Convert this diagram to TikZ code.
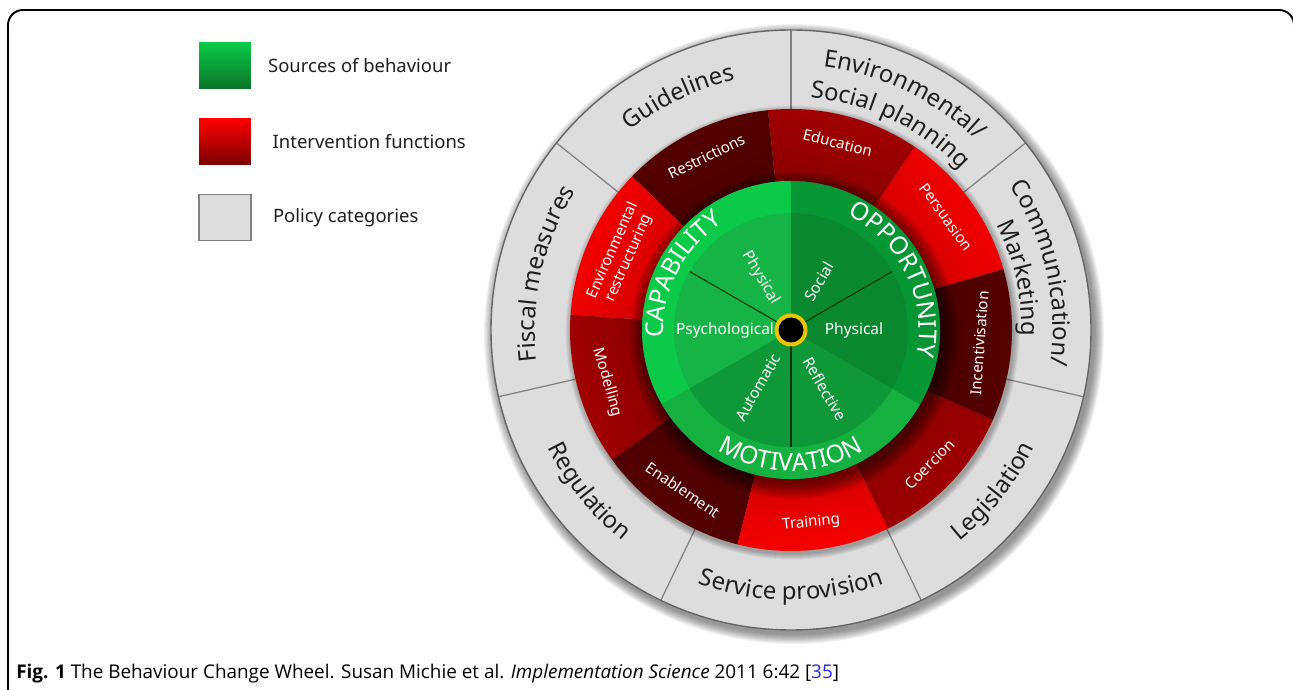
\documentclass[tikz,border=0pt]{standalone}
\usepackage{fontspec}
\setmainfont{Noto Sans}
\newfontfamily\captionfont{Open Sans}
\usetikzlibrary{calc,positioning,decorations.text}

\definecolor{capgreen}{RGB}{10,202,72}
\definecolor{capinner}{RGB}{22,180,70}
\definecolor{oppgreen}{RGB}{6,150,52}
\definecolor{oppinner}{RGB}{10,136,48}
\definecolor{motgreen}{RGB}{20,176,64}
\definecolor{motinner}{RGB}{14,152,56}
\definecolor{fnbright}{RGB}{252,0,0}
\definecolor{fnmid}{RGB}{165,0,0}
\definecolor{fndark}{RGB}{88,0,0}
\definecolor{polgrey}{RGB}{221,221,221}
\definecolor{polline}{RGB}{128,128,128}
\definecolor{labeltext}{RGB}{30,30,30}
\definecolor{hubyellow}{RGB}{236,196,0}
\definecolor{citeblue}{RGB}{40,40,235}

\newcommand\legendsize{\fontsize{10.5}{12}\selectfont}
\newcommand\policysize{\fontsize{13.6}{16}\selectfont}
\newcommand\sourcesize{\fontsize{14}{16}\selectfont}
\newcommand\subsize{\fontsize{8.8}{10}\selectfont}
\newcommand\fnsize{\fontsize{8.6}{10}\selectfont}

\begin{document}
\begin{tikzpicture}[
    x=0.02cm, y=0.02cm,
    legendbox/.style={minimum width=1.04cm, minimum height=0.92cm, inner sep=0},
    legendtext/.style={inner sep=0, font=\legendsize, text=labeltext},
    fnlabel/.style={inner sep=0, text=white, font=\fnsize, align=center},
    sublabel/.style={inner sep=0, text=white, font=\subsize},
    shadowring/.style={black, opacity=#1}
  ]
  \useasboundingbox (0,0) rectangle (1293,689);

  % frame, open at the bottom
  \draw[line width=1.1pt, rounded corners=0.3cm] (8,-20) -- (8,679) -- (1294,679) -- (1294,-20);

  % legend
  \node (srcbox) [legendbox, top color=capgreen, bottom color=oppinner!85!black] at (225,623) {};
  \node (fnbox) [legendbox, top color=fnbright, bottom color=fnmid!75!black, below=0.58cm of srcbox] {};
  \node (polbox) [legendbox, fill=polgrey, draw=polline, line width=0.8pt, below=0.58cm of fnbox] {};
  \node (srclabel) [legendtext, right=0.33cm of srcbox] {Sources of behaviour};
  \node (fnlabel) [legendtext, right=0.42cm of fnbox] {Intervention functions};
  \node (pollabel) [legendtext, right=0.42cm of polbox] {Policy categories};

  \begin{scope}[shift={(791,359)}]
    % policy ring with its shadow
    \foreach \k in {1,...,10}
      \fill[shadowring=0.05] (3,-4) circle[radius=300+\k];
    \fill[polgrey] (0,0) circle[radius=300];
    \foreach \k in {0,...,6}
      \draw[polline, line width=0.7pt] ({90+\k*360/7}:221) -- ({90+\k*360/7}:300);
    \draw[black!60, line width=0.8pt] (0,0) circle[radius=300];

    % intervention ring
    \foreach \k in {1,...,6}
      \fill[shadowring=0.05] (1.5,-2.5) circle[radius=221+\k];
    \foreach \i/\col in {0/fnbright,1/fnmid,2/fndark,3/fnbright,4/fnmid,5/fndark,6/fnbright,7/fnmid,8/fndark} {
      \pgfmathsetmacro\st{16+40*\i}
      \pgfmathsetmacro\en{\st+40}
      \pgfmathsetmacro\sh{\st-70}
      \shade[top color=\col, bottom color=\col!82!black, shading angle=\sh]
        (\st:149) arc[start angle=\st, end angle=\en, radius=149]
        -- (\en:221) arc[start angle=\en, end angle=\st, radius=221] -- cycle;
    }

    % sources of behaviour
    \foreach \k in {1,...,10}
      \fill[shadowring=0.06] (3,-5) circle[radius=149+1.5*\k];
    \foreach \a/\outer/\inner in {90/capgreen/capinner, 210/motgreen/motinner, 330/oppgreen/oppinner} {
      \fill[\outer] (0,0) -- (\a:149) arc[start angle=\a, delta angle=120, radius=149] -- cycle;
      \fill[\inner] (0,0) -- (\a:117) arc[start angle=\a, delta angle=120, radius=117] -- cycle;
    }
    \foreach \a in {30,150,270}
      \draw[line width=0.6pt, green!20!black] (0,0) -- (\a:117);
    \fill[hubyellow] (0,0) circle[radius=16.5];
    \fill[black] (0,0) circle[radius=12.5];

    % ring labels along arcs
    \foreach \a/\r/\s/\w/\txt in {153/127/1/45/CAPABILITY, 26/128/1/48/OPPORTUNITY, 270/141/-1/45/MOTIVATION}
      \path[decorate, decoration={text along path, text align=center, text color=white,
          text/.expanded={|\noexpand\sourcesize|\txt}}]
        ({\a+\s*\w}:\r) arc[start angle={\a+\s*\w}, end angle={\a-\s*\w}, radius=\r];
    \foreach \a/\r/\s/\txt in {115.7/256/1/Guidelines, 167.1/256/1/Fiscal measures,
        218.6/270/-1/Regulation, 270/270/-1/Service provision, 321.4/270/-1/Legislation,
        12.9/262/1/{Communication/}, 12.9/231/1/Marketing,
        64.3/265/1/{Environmental/}, 64.3/233/1/Social planning}
      \path[decorate, decoration={text along path, text align=center, text color=labeltext,
          text/.expanded={|\noexpand\policysize|\txt}}]
        ({\a+\s*32}:\r) arc[start angle={\a+\s*32}, end angle={\a-\s*32}, radius=\r];

    % intervention functions
    \foreach \i/\r/\rot/\txt in {0/192/-54/Persuasion, 1/193/-14/Education, 2/193/26/Restrictions,
        3/186/66/{Environmental\\restructuring}, 4/191/286/Modelling, 5/193/326/Enablement,
        6/194/6/Training, 7/193/46/Coercion, 8/189/86/Incentivisation}
      \node (fn\i) [fnlabel, rotate=\rot] at ({36+40*\i}:\r) {\txt};

    % components of each source
    \foreach \a/\r/\rot/\txt/\n in {180/66/0/Psychological/psy, 120/60/-60/Physical/cphy,
        60/56/60/Social/soc, 0/63/0/Physical/ophy, 240/66/60/Automatic/aut, 300/68/-60/Reflective/ref}
      \node (\n) [sublabel, rotate=\rot] at (\a:\r) {\txt};
  \end{scope}

  \node (caption) [anchor=base west, inner sep=0, font=\captionfont\fontsize{10.75}{12}\selectfont] at (16,11)
    {\textbf{Fig. 1} The Behaviour Change Wheel. Susan Michie et al. \textit{Implementation Science} 2011 6:42 [{\color{citeblue}35}]};
\end{tikzpicture}
\end{document}
